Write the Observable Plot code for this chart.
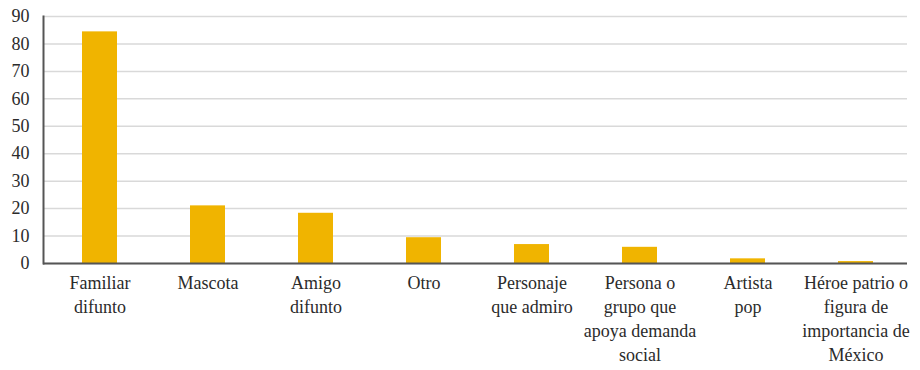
<!DOCTYPE html>
<html>
<head>
<meta charset="utf-8">
<script src="https://cdn.jsdelivr.net/npm/d3@7"></script>
<script src="https://cdn.jsdelivr.net/npm/@observablehq/plot@0.6"></script>
<style>
  html, body { margin: 0; padding: 0; background: #fff; }
</style>
</head>
<body>
<div id="chart"></div>
<script>
const categories = [
  "Familiar difunto",
  "Mascota",
  "Amigo difunto",
  "Otro",
  "Personaje que admiro",
  "Persona o grupo que apoya demanda social",
  "Artista pop",
  "Héroe patrio o figura de importancia de México"
];
const tickLabels = [
  "Familiar\ndifunto",
  "Mascota",
  "Amigo\ndifunto",
  "Otro",
  "Personaje\nque admiro",
  "Persona o\ngrupo que\napoya demanda\nsocial",
  "Artista\npop",
  "Héroe patrio o\nfigura de\nimportancia de\nMéxico"
];
const values = [84.4, 21.0, 18.3, 9.4, 6.9, 5.9, 1.7, 0.7];
const yTicks = [0, 10, 20, 30, 40, 50, 60, 70, 80, 90];

const data = categories.map((c, i) => ({category: c, value: values[i]}));
const labelOf = new Map(categories.map((c, i) => [c, tickLabels[i]]));

const serifStack = "Liberation Serif, Times New Roman, serif";

const chart = Plot.plot({
  width: 920,
  height: 370,
  marginTop: 16,
  marginBottom: 107,
  marginLeft: 43,
  marginRight: 13,
  style: {fontSize: "18px", color: "#2b2b2b", background: "#fff"},
  x: {domain: categories, paddingInner: 0.675, paddingOuter: 0.3375, align: 0.53, label: null},
  y: {domain: [0, 90], label: null},
  marks: [
    Plot.gridY(yTicks, {stroke: "#d9d9d9", strokeOpacity: 1, strokeWidth: 1.5}),
    Plot.barY(data, {x: "category", y: "value", fill: "#f0b400"}),
    Plot.axisY(yTicks, {tickSize: 0, tickPadding: 14, fontSize: 18, label: null}),
    Plot.axisX({tickSize: 0, tickPadding: 9, fontSize: 18, lineHeight: 1.32, tickFormat: d => labelOf.get(d), label: null}),
    Plot.ruleY([0], {stroke: "#555", strokeWidth: 2}),
    Plot.frame({anchor: "left", stroke: "#555", strokeWidth: 2})
  ]
});
chart.style.fontFamily = "";
chart.setAttribute("font-family", serifStack);
chart.querySelectorAll("g, text").forEach(el => el.setAttribute("font-family", serifStack));
document.getElementById("chart").appendChild(chart);
</script>
</body>
</html>
